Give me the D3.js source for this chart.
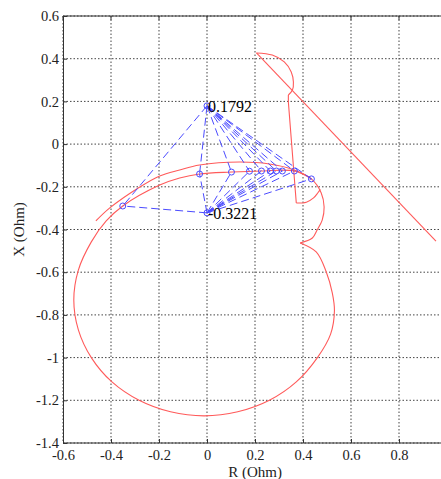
<!DOCTYPE html>
<html>
<head>
<meta charset="utf-8">
<script src="https://cdn.jsdelivr.net/npm/d3@7"></script>
<style>
  body { margin: 0; background: #fff; }
  svg text { font-family: "Liberation Serif", "Times New Roman", serif !important; }
</style>
</head>
<body>
<svg id="chart"></svg>
<script>
const d3 = window.d3

// axis ticks
const xTicks = [-0.6, -0.4, -0.2, 0, 0.2, 0.4, 0.6, 0.8]
const yTicks = [0.6, 0.4, 0.2, 0, -0.2, -0.4, -0.6, -0.8, -1, -1.2, -1.4]

// red trajectory pieces, [R, X] in ohm
const swingLine = [[0.954, -0.454], [0.206, 0.427]]
const topArc = [[0.206, 0.427], [0.272, 0.417], [0.322, 0.385], [0.351, 0.338], [0.360, 0.291], [0.356, 0.253], [0.339, 0.230]]
const dropLine = [[0.339, 0.230], [0.339, 0.197], [0.372, -0.276]]
const smallLoop = [[0.372, -0.276], [0.414, -0.272], [0.444, -0.252], [0.462, -0.228], [0.472, -0.212]]
const outerArc = [[-0.463, -0.36], [-0.405, -0.299], [-0.28, -0.201], [-0.197, -0.149], [-0.114, -0.121], [-0.031, -0.098],
  [0.135, -0.084], [0.26, -0.093], [0.364, -0.121], [0.435, -0.163], [0.476, -0.229], [0.488, -0.295], [0.48, -0.356],
  [0.459, -0.402], [0.439, -0.44], [0.388, -0.463]]
const bigCircle = [[0.388, -0.463], [0.455, -0.505], [0.497, -0.599], [0.522, -0.697], [0.531, -0.78], [0.515, -0.89],
  [0.46, -1.0], [0.372, -1.114], [0.26, -1.2], [0.128, -1.254], [-0.012, -1.273], [-0.152, -1.254], [-0.283, -1.2],
  [-0.396, -1.114], [-0.482, -1.0], [-0.536, -0.87], [-0.555, -0.73], [-0.536, -0.59], [-0.482, -0.458],
  [-0.42, -0.36], [-0.351, -0.29], [-0.197, -0.192], [-0.114, -0.159], [-0.031, -0.14],
  [0.102, -0.131], [0.227, -0.126], [0.364, -0.126], [0.435, -0.163]]

// blue markers on the trajectory and the two fixed points
const markerR = [-0.351, -0.031, 0.102, 0.177, 0.227, 0.264, 0.289, 0.314, 0.364, 0.435]
const markerX = [-0.29, -0.14, -0.131, -0.127, -0.126, -0.126, -0.126, -0.126, -0.126, -0.163]
const apexPoints = [[0, 0.1792], [0, -0.3221]]
const apexLabels = ['0.1792', '-0.3221']

const width = 441
const height = 479
const svg = d3.select('#chart').attr('width', width).attr('height', height)

const x = d3.scaleLinear().domain([-0.6, 1.0]).range([63, 447])
const y = d3.scaleLinear().domain([-1.4, 0.6]).range([443, 16])

const plot = svg.append('g')

// grid
const gridX = xTicks.concat([1.0])
plot.selectAll('.gx').data(gridX).join('line')
  .attr('x1', d => x(d)).attr('x2', d => x(d))
  .attr('y1', y(0.6)).attr('y2', y(-1.4))
  .attr('stroke', '#444').attr('stroke-dasharray', '1.5,2')
plot.selectAll('.gy').data(yTicks).join('line')
  .attr('x1', x(-0.6)).attr('x2', x(1.0))
  .attr('y1', d => y(d)).attr('y2', d => y(d))
  .attr('stroke', '#444').attr('stroke-dasharray', '1.5,2')

// red curves
const smooth = d3.line().x(d => x(d[0])).y(d => y(d[1])).curve(d3.curveCatmullRom)
const straight = d3.line().x(d => x(d[0])).y(d => y(d[1]))
const red = '#ff5a5a'
;[[swingLine, straight], [topArc, smooth], [dropLine, straight], [smallLoop, smooth], [outerArc, smooth], [bigCircle, smooth]]
  .forEach(([pts, gen]) => {
    plot.append('path').attr('d', gen(pts))
      .attr('fill', 'none').attr('stroke', red).attr('stroke-width', 1.1)
  })

// blue dashed rays
const blue = '#4b4bff'
const markers = markerR.map((r, i) => [r, markerX[i]])
apexPoints.forEach(a => {
  markers.forEach(m => {
    plot.append('line')
      .attr('x1', x(a[0])).attr('y1', y(a[1]))
      .attr('x2', x(m[0])).attr('y2', y(m[1]))
      .attr('stroke', blue).attr('stroke-width', 1)
      .attr('stroke-dasharray', '8,4')
  })
})
plot.selectAll('.mk').data(markers.concat(apexPoints)).join('circle')
  .attr('cx', d => x(d[0])).attr('cy', d => y(d[1])).attr('r', 3)
  .attr('fill', 'none').attr('stroke', blue).attr('stroke-width', 1)

plot.selectAll('.lbl').data(apexPoints).join('text')
  .attr('x', d => x(d[0]) + 1).attr('y', d => y(d[1]) + 6)
  .attr('font-size', 16).attr('fill', '#000')
  .text((d, i) => apexLabels[i])

// axes box with inner ticks
const fmt = d => d3.format('~g')(d).replace('\u2212', '-')
const xAxisB = d3.axisBottom(x).tickValues(xTicks).tickSizeInner(-4).tickSizeOuter(0).tickPadding(7).tickFormat(fmt)
const yAxisL = d3.axisLeft(y).tickValues(yTicks).tickSizeInner(-4).tickSizeOuter(0).tickPadding(4).tickFormat(fmt)
const gx = svg.append('g').attr('transform', `translate(0,${y(-1.4)})`).call(xAxisB)
const gy = svg.append('g').attr('transform', `translate(${x(-0.6)},0)`).call(yAxisL)
;[gx, gy].forEach(g => {
  g.select('.domain').attr('stroke', '#333')
  g.selectAll('.tick line').attr('stroke', '#333')
  g.selectAll('.tick text').attr('font-size', 14.5).attr('fill', '#222')
})
gx.select('.domain').attr('d', `M${x(-0.6)},0H${x(1.0)}`)
svg.append('line').attr('x1', x(-0.6)).attr('x2', x(1.0)).attr('y1', y(0.6)).attr('y2', y(0.6)).attr('stroke', '#333')
svg.selectAll('.tt').data(xTicks).join('line')
  .attr('x1', d => x(d)).attr('x2', d => x(d)).attr('y1', y(0.6)).attr('y2', y(0.6) + 4).attr('stroke', '#333')

// axis titles
svg.append('text').attr('x', (x(-0.6) + x(1.0)) / 2).attr('y', 477)
  .attr('text-anchor', 'middle').attr('font-size', 15).attr('fill', '#222').text('R (Ohm)')
svg.append('text').attr('transform', `translate(24,${(y(0.6) + y(-1.4)) / 2}) rotate(-90)`)
  .attr('text-anchor', 'middle').attr('font-size', 15).attr('fill', '#222').text('X (Ohm)')
</script>
</body>
</html>
